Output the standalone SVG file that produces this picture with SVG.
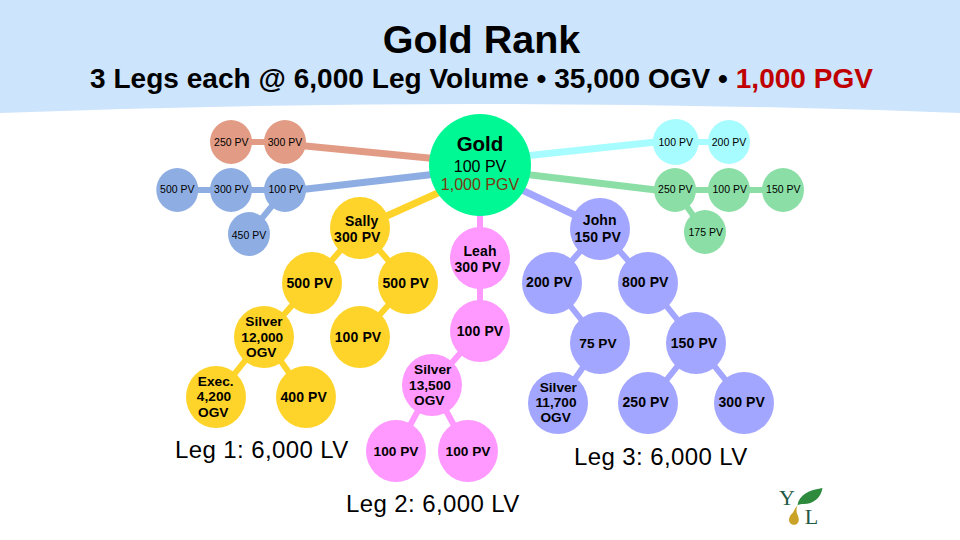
<svg xmlns="http://www.w3.org/2000/svg" width="960" height="540" viewBox="0 0 960 540">
<style>
text{font-family:"Liberation Sans",Arial,sans-serif;fill:#000;text-anchor:middle}
.s{font-size:10.5px}
.b{font-size:14px;font-weight:bold;letter-spacing:.1px}
.m{font-size:13.7px;font-weight:bold}
.leg{font-size:24px;text-anchor:start;letter-spacing:.4px}
.c{stroke-width:6;fill:none}
.w{stroke-width:7}
.sa{stroke:#E29C85}.bl{stroke:#8EAEE3}.ye{stroke:#FFD42A}.pi{stroke:#FF99FF}.la{stroke:#A3A6FF}.cy{stroke:#A6FCFF}.gr{stroke:#8BDFA6}
.fsa{fill:#E29C85}.fbl{fill:#8EAEE3}.fye{fill:#FFD42A}.fpi{fill:#FF99FF}.fla{fill:#A3A6FF}.fcy{fill:#A6FCFF}.fgr{fill:#8BDFA6}
</style>
<rect width="960" height="540" fill="#CCE4FC"/>
<path d="M0 113Q480 95 960 113V540H0Z" fill="#fff"/>
<g id="title">
<text x="481.500" y="52.500" font-size="39.500" font-weight="bold">Gold Rank</text>
<text x="481.500" y="88" font-size="28" font-weight="bold" textLength="783">3 Legs each @ 6,000 Leg Volume • 35,000 OGV • <tspan style="fill:#C00000">1,000 PGV</tspan></text>
</g>
<g id="connectors">
<path class="c sa" d="M231 142H285"/><path class="c sa w" d="M285 144L480 163"/>
<path class="c bl" d="M177 190H285M285 190L249 234"/><path class="c bl w" d="M285 191.500L480 169"/>
<path class="c ye w" d="M360 228L480 174"/>
<path class="c ye" d="M312 283L360 228L408 283M312 283L264 337L216 397M264 337L306 397M408 283L360 337"/>
<path class="c pi" d="M480 165V331L432 385L396 451M432 385L468 451"/>
<path class="c cy" d="M676 142H729"/><path class="c cy w" d="M675 140L480 160.700"/>
<path class="c gr" d="M675 190H783M675 190L705 232"/><path class="c gr w" d="M480 169L675 192.300"/>
<path class="c la w" d="M480 170L600 227"/>
<path class="c la" d="M552 283L600 229L648 283M552 283L600 343L558 403M648 283L696 343L648 403M696 343L744 403"/>
</g>
<g id="gold"><circle cx="480" cy="165" r="51" fill="#00F894"/>
<text x="480" y="150.700" font-size="20.500" font-weight="bold">Gold</text>
<text x="480" y="171.700" font-size="16">100 PV</text>
<text x="480" y="190" font-size="16" style="fill:#7A3A10">1,000 PGV</text></g>
<g id="sa1"><ellipse cx="231" cy="142" rx="21" ry="22" class="fsa"/><text class="s" x="231.300" y="145.700">250 PV</text></g>
<g id="sa2"><ellipse cx="285" cy="142" rx="21" ry="22" class="fsa"/><text class="s" x="285" y="145.700">300 PV</text></g>
<g id="bl1"><ellipse cx="177.300" cy="190" rx="21" ry="22" class="fbl"/><text class="s" x="177.300" y="193.300">500 PV</text></g>
<g id="bl2"><ellipse cx="231" cy="190" rx="21" ry="22" class="fbl"/><text class="s" x="231.300" y="193.300">300 PV</text></g>
<g id="bl3"><ellipse cx="285" cy="190" rx="21" ry="22" class="fbl"/><text class="s" x="285.700" y="193.300">100 PV</text></g>
<g id="bl4"><ellipse cx="249" cy="234" rx="21" ry="22" class="fbl"/><text class="s" x="249" y="238.700">450 PV</text></g>
<g id="cy1"><ellipse cx="675.700" cy="142" rx="23" ry="23" class="fcy"/><text class="s" x="675.700" y="145.700">100 PV</text></g>
<g id="cy2"><ellipse cx="729" cy="142" rx="21" ry="22" class="fcy"/><text class="s" x="729" y="145.700">200 PV</text></g>
<g id="gr1"><ellipse cx="675" cy="190" rx="21" ry="22" class="fgr"/><text class="s" x="675.300" y="193.300">250 PV</text></g>
<g id="gr2"><ellipse cx="729" cy="190" rx="21" ry="22" class="fgr"/><text class="s" x="729.700" y="193.300">100 PV</text></g>
<g id="gr3"><ellipse cx="783" cy="190" rx="21" ry="22" class="fgr"/><text class="s" x="783.300" y="193.300">150 PV</text></g>
<g id="gr4"><ellipse cx="705" cy="232" rx="21" ry="22" class="fgr"/><text class="s" x="705.700" y="236">175 PV</text></g>
<g id="sally"><ellipse cx="360" cy="228" rx="30" ry="31" class="fye"/><text class="b" x="361.700" y="226">Sally</text><text class="b" x="357.300" y="241.700">300 PV</text></g>
<g id="ye500a"><ellipse cx="312" cy="283" rx="30" ry="31" class="fye"/><text class="b" x="309.700" y="287.700">500 PV</text></g>
<g id="ye500b"><ellipse cx="408" cy="283" rx="30" ry="31" class="fye"/><text class="b" x="405.700" y="287.700">500 PV</text></g>
<g id="ye-silver"><ellipse cx="264" cy="337" rx="30" ry="31" class="fye"/><text class="m" x="264" y="326">Silver</text><text class="m" x="262.300" y="341.700">12,000</text><text class="m" x="261.300" y="356.700">OGV</text></g>
<g id="ye100"><ellipse cx="360" cy="337" rx="30" ry="31" class="fye"/><text class="b" x="358" y="341.700">100 PV</text></g>
<g id="ye-exec"><ellipse cx="216" cy="397" rx="30" ry="31" class="fye"/><text class="m" x="215.700" y="385.700">Exec.</text><text class="m" x="214" y="401">4,200</text><text class="m" x="213.300" y="416.700">OGV</text></g>
<g id="ye400"><ellipse cx="306" cy="397" rx="30" ry="31" class="fye"/><text class="b" x="303.700" y="401.700">400 PV</text></g>
<g id="leah"><ellipse cx="480" cy="258" rx="30" ry="31" class="fpi"/><text class="b" x="480" y="255.700">Leah</text><text class="b" x="477.700" y="271.700">300 PV</text></g>
<g id="pi100"><ellipse cx="480" cy="331" rx="30" ry="31" class="fpi"/><text class="b" x="480" y="336">100 PV</text></g>
<g id="pi-silver"><ellipse cx="432" cy="385" rx="30" ry="31" class="fpi"/><text class="m" x="432.700" y="374">Silver</text><text class="m" x="430" y="389.700">13,500</text><text class="m" x="429.300" y="404.700">OGV</text></g>
<g id="pi100a"><ellipse cx="396" cy="451" rx="30" ry="31" class="fpi"/><text class="m" x="396" y="455.700">100 PV</text></g>
<g id="pi100b"><ellipse cx="468" cy="451" rx="30" ry="31" class="fpi"/><text class="m" x="468" y="455.700">100 PV</text></g>
<g id="john"><ellipse cx="600" cy="229" rx="30" ry="31" class="fla"/><text class="b" x="599.700" y="225">John</text><text class="b" x="597.700" y="241.700">150 PV</text></g>
<g id="la200"><ellipse cx="552" cy="283" rx="30" ry="31" class="fla"/><text class="b" x="549.300" y="287.300">200 PV</text></g>
<g id="la800"><ellipse cx="648" cy="283" rx="30" ry="31" class="fla"/><text class="b" x="645.300" y="287.300">800 PV</text></g>
<g id="la75"><ellipse cx="600" cy="343" rx="30" ry="31" class="fla"/><text class="m" x="598" y="347.700">75 PV</text></g>
<g id="la150"><ellipse cx="696" cy="343" rx="30" ry="31" class="fla"/><text class="b" x="694" y="347.700">150 PV</text></g>
<g id="la-silver"><ellipse cx="558" cy="403" rx="30" ry="31" class="fla"/><text class="m" x="558.300" y="391.700">Silver</text><text class="m" x="556" y="407.300">11,700</text><text class="m" x="555.700" y="422.300">OGV</text></g>
<g id="la250"><ellipse cx="648" cy="403" rx="30" ry="31" class="fla"/><text class="b" x="645.700" y="407.300">250 PV</text></g>
<g id="la300"><ellipse cx="744" cy="403" rx="30" ry="31" class="fla"/><text class="b" x="741.700" y="407.300">300 PV</text></g>
<g id="legs">
<text class="leg" x="175" y="458.300">Leg 1: 6,000 LV</text>
<text class="leg" x="346" y="512.300">Leg 2: 6,000 LV</text>
<text class="leg" x="574" y="465">Leg 3: 6,000 LV</text>
</g>
<g id="logo">
<text x="787" y="505" font-size="22" style="font-family:'Liberation Serif',serif;fill:#1F5A45">Y</text>
<text x="811.500" y="524.300" font-size="22" style="font-family:'Liberation Serif',serif;fill:#1F5A45">L</text>
<path d="M797.500 505C799 495 809 490 822.500 488C821 498 813 504 804 504C801.500 504 799 504.500 797.500 505Z" fill="#2E8B3E"/>
<path d="M798 505C795 508 794.500 510 793 512.500C790.500 515 789 517 789 520C789 523 791.500 524.800 794 524.800C797 524.800 798.800 522.500 798.800 519.500C798.800 516 796.500 514 796.500 510.500C796.500 508 797 506.500 798 505Z" fill="#C9A227"/>
</g>
</svg>
